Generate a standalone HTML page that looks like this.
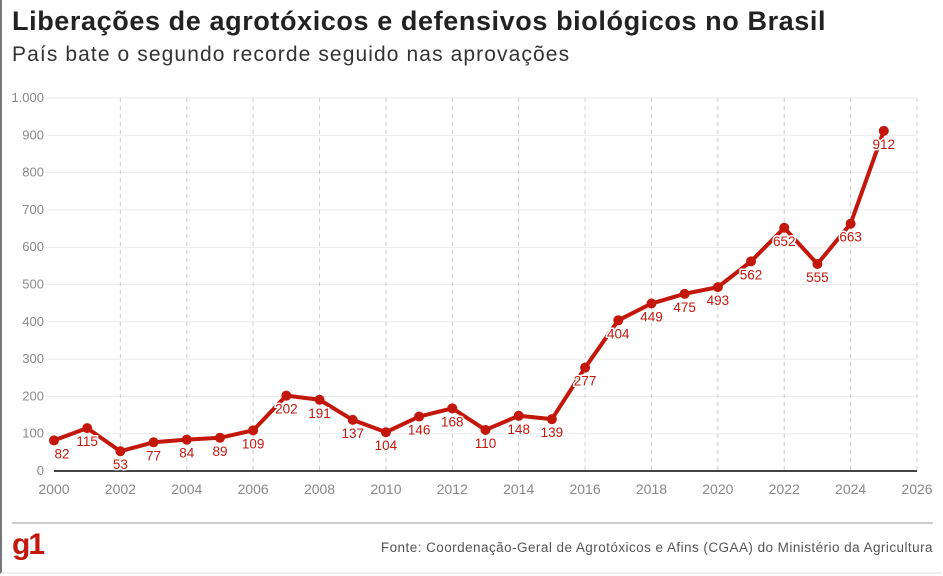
<!DOCTYPE html>
<html><head><meta charset="utf-8"><style>
html,body{margin:0;padding:0;background:#fff;}
body{width:943px;height:576px;position:relative;overflow:hidden;font-family:"Liberation Sans",sans-serif;}
#frame{position:absolute;left:0;top:0;width:941px;height:574px;border-left:2px solid #777;border-bottom:2px solid #eee;box-sizing:border-box;}
h1{position:absolute;left:12px;top:6px;margin:0;font-size:27px;font-weight:bold;color:#222;letter-spacing:0.6px;white-space:nowrap;}
h2{position:absolute;left:12px;top:43px;margin:0;font-size:21px;font-weight:normal;color:#333;letter-spacing:1.1px;white-space:nowrap;}
#src{position:absolute;right:10px;top:540px;font-size:13.5px;color:#555;letter-spacing:0.45px;white-space:nowrap;}
#logo{position:absolute;left:12px;top:528px;font-size:30px;font-weight:bold;color:#c4170c;letter-spacing:-2px;}
#sep{position:absolute;left:12px;top:522px;width:921px;height:2px;background:#ccc;}
</style></head><body>
<div id="frame"></div>
<h1>Liberações de agrotóxicos e defensivos biológicos no Brasil</h1>
<h2>País bate o segundo recorde seguido nas aprovações</h2>
<svg id="chart" width="943" height="576" style="position:absolute;left:0;top:0"></svg>
<div id="sep"></div>
<div id="logo">g1</div>
<div id="src">Fonte: Coordenação-Geral de Agrotóxicos e Afins (CGAA) do Ministério da Agricultura</div>
<script>
const years=[2000,2001,2002,2003,2004,2005,2006,2007,2008,2009,2010,2011,2012,2013,2014,2015,2016,2017,2018,2019,2020,2021,2022,2023,2024,2025];
const values=[82,115,53,77,84,89,109,202,191,137,104,146,168,110,148,139,277,404,449,475,493,562,652,555,663,912];
const yTicks=[0,100,200,300,400,500,600,700,800,900,1000];
const yTickLabels=["0","100","200","300","400","500","600","700","800","900","1.000"];
const xTicks=[2000,2002,2004,2006,2008,2010,2012,2014,2016,2018,2020,2022,2024,2026];
const svg=document.getElementById('chart');const NS='http://www.w3.org/2000/svg';
const x=v=>54+(v-2000)*(863/26);const y=v=>471-v*0.373;
function mk(t,a){const e=document.createElementNS(NS,t);for(const k in a)e.setAttribute(k,a[k]);svg.appendChild(e);return e;}
yTicks.forEach((t,i)=>{
 if(t>0){const g=mk('line',{x1:46,x2:917,y1:y(t),y2:y(t),stroke:'#eaeaea','stroke-width':1});
 
 }
 const l=mk('text',{x:44,y:y(t)+4,'text-anchor':'end','font-size':13,fill:'#888'});l.textContent=yTickLabels[i];
 
 
});
xTicks.forEach(t=>{
 if(t>2000){const g=mk('line',{x1:x(t),x2:x(t),y1:98,y2:471,stroke:'#ccc','stroke-dasharray':'4,4','stroke-width':1});
 
 }
 const l=mk('text',{x:x(t),y:494,'text-anchor':'middle','font-size':14,fill:'#888'});l.textContent=t;
 
 
});
const base=mk('line',{x1:54,x2:917,y1:471,y2:471,stroke:'#444','stroke-width':2});


const line=mk('polyline',{points:years.map((yr,i)=>x(yr)+','+y(values[i])).join(' '),fill:'none',stroke:'#c4170c','stroke-width':4,'stroke-linejoin':'round'});


years.forEach((yr,i)=>{
 const c=mk('circle',{cx:x(yr),cy:y(values[i]),r:5,fill:'#c4170c'});
 
 
 const l=mk('text',{x:x(yr)+(i==0?8:0),y:y(values[i])+18,'text-anchor':'middle','font-size':13.5,fill:'#c4170c',stroke:'#fff','stroke-width':3,'paint-order':'stroke'});
 l.textContent=values[i];
 
 
});
</script>
</body></html>
